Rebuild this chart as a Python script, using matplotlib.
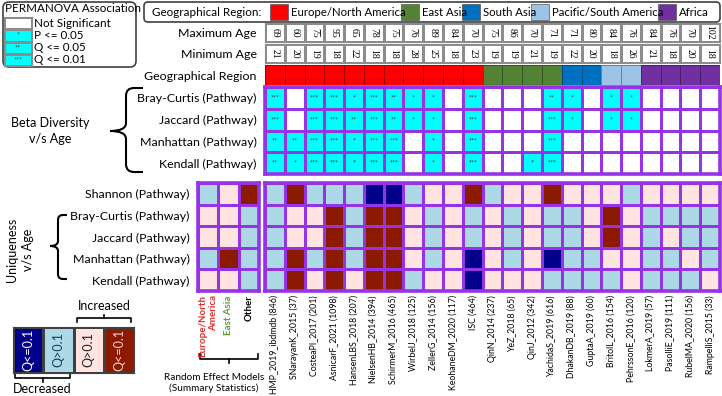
import numpy as np
import matplotlib.pyplot as plt
from matplotlib.colors import ListedColormap, BoundaryNorm
from matplotlib.patches import FancyBboxPatch, PathPatch, Rectangle
from matplotlib.path import Path

plt.rcParams['font.family'] = ['Lato', 'DejaVu Sans']

# ---- data ----
studies = ['HMP_2019_ibdmdb (846)', 'SNarayanK_2015 (37)', 'CosteaPI_2017 (201)',
           'AsnicarF_2021 (1098)', 'HansenLBS_2018 (207)', 'NielsenHB_2014 (394)',
           'SchirmerM_2016 (465)', 'WirbelJ_2018 (125)', 'ZellerG_2014 (156)',
           'KeohaneDM_2020 (117)', 'ISC (464)', 'QinN_2014 (237)', 'YeZ_2018 (65)',
           'QinJ_2012 (342)', 'YachidaS_2019 (616)', 'DhakanDB_2019 (88)',
           'GuptaA_2019 (60)', 'BritolL_2016 (154)', 'PehrssonE_2016 (120)',
           'LokmerA_2019 (57)', 'PasolliE_2019 (111)', 'RubelMA_2020 (156)',
           'RampelliS_2015 (33)']
region_names = ['Europe/North America', 'East Asia', 'South Asia',
                'Pacific/South America', 'Africa']
region_colors = ['#ff0000', '#548235', '#0070c0', '#9dc3e6', '#7030a0']
study_region = [0, 0, 0, 0, 0, 0, 0, 0, 0, 0, 0, 1, 1, 1, 1, 2, 2, 3, 3, 4, 4, 4, 4]
max_age = [69, 60, 75, 95, 65, 78, 75, 76, 89, 84, 70, 75, 86, 70, 71, 71, 80, 84,
           76, 84, 76, 70, 102]
min_age = [21, 20, 19, 18, 22, 18, 18, 28, 25, 18, 23, 19, 19, 21, 19, 22, 20, 18,
           26, 21, 18, 20, 18]

beta_rows = ['Bray-Curtis (Pathway)', 'Jaccard (Pathway)', 'Manhattan (Pathway)',
             'Kendall (Pathway)']
# 0 = not significant, 1 = *, 2 = **, 3 = ***
beta_sig = [
    [3, 0, 3, 3, 1, 3, 2, 1, 1, 0, 3, 0, 0, 0, 2, 1, 0, 1, 1, 0, 0, 0, 0],
    [3, 0, 3, 3, 2, 3, 2, 1, 1, 0, 3, 0, 0, 0, 3, 1, 0, 1, 1, 0, 0, 0, 0],
    [2, 2, 3, 3, 1, 3, 3, 0, 1, 0, 3, 0, 0, 0, 3, 0, 0, 0, 0, 0, 0, 0, 0],
    [2, 1, 3, 3, 1, 3, 3, 0, 1, 0, 3, 0, 0, 1, 3, 0, 0, 0, 0, 0, 0, 0, 0],
]

uniq_rows = ['Shannon (Pathway)', 'Bray-Curtis (Pathway)', 'Jaccard (Pathway)',
             'Manhattan (Pathway)', 'Kendall (Pathway)']
rem_labels = ['Europe/North\nAmerica', 'East Asia', 'Other']
rem_colors = ['#e0302a', '#5c9a3a', 'black']
# -2 decreased Q<=0.1, -1 decreased Q>0.1, 1 increased Q>0.1, 2 increased Q<=0.1
uniq_rem = [
    [-1, 1, 2],
    [1, 1, -1],
    [1, 1, -1],
    [-1, 2, -1],
    [1, 1, -1],
]
uniq_study = [
    [-1, 2, -1, -1, -1, -2, -2, -1, 1, 1, 2, -1, 1, 1, 2, 1, 1, 1, -1, 1, 1, 1, 1],
    [-1, 1, 1, 2, -1, 2, 2, 1, -1, 1, -1, 1, -1, 1, -1, -1, 1, 2, 1, -1, -1, -1, -1],
    [-1, 1, 1, 2, -1, 2, 2, 1, -1, 1, -1, 1, -1, 1, -1, -1, 1, 2, 1, -1, 1, -1, -1],
    [-1, 2, -1, 2, -1, 2, 2, 1, -1, 1, -2, 1, -1, 1, -2, -1, -1, 1, 1, -1, -1, 1, -1],
    [-1, 2, 1, 2, 1, 2, 2, -1, 1, 1, -2, 1, 1, 1, -1, -1, -1, -1, 1, -1, -1, -1, 1],
]
legend_levels = [-2, -1, 1, 2]
legend_text = ['Q<=0.1', 'Q>0.1', 'Q>0.1', 'Q<=0.1']
legend_text_colors = ['white', '#1f3864', '#222222', '#ffd0d0']
sig_levels = [0, 1, 2, 3]
sig_text = ['Not Significant', 'P <= 0.05', 'Q <= 0.05', 'Q <= 0.01']

# ---- styles ----
W, H = 722, 396
PURPLE = '#9633e6'
LBL = 8.9
beta_cmap = ListedColormap(['white', '#00ffff'])
beta_norm = BoundaryNorm([-0.5, 0.5, 3.5], 2)
uniq_cmap = ListedColormap(['#00008b', '#add8e6', '#ffe4e1', '#8b1a00'])
uniq_norm = BoundaryNorm([-2.5, -1.5, 0, 1.5, 2.5], 4)

fig = plt.figure(figsize=(W / 100, H / 100), dpi=100)

# overlay for braces / boxes / free text, pixel coordinates
ax = fig.add_axes([0, 0, 1, 1])
ax.set_xlim(0, W)
ax.set_ylim(H, 0)
ax.axis('off')


def px_axes(x0, y0, x1, y1):
    return fig.add_axes([x0 / W, 1 - y1 / H, (x1 - x0) / W, (y1 - y0) / H])


def grid(a, vals, cmap, norm, edge, lw, spine_lw):
    vals = np.asarray(vals)
    a.pcolormesh(vals, cmap=cmap, norm=norm, edgecolors=edge, linewidth=lw)
    a.set_xlim(0, vals.shape[1])
    a.set_ylim(vals.shape[0], 0)
    a.set_xticks([])
    a.set_yticks([])
    for s in a.spines.values():
        s.set_color(edge)
        s.set_linewidth(spine_lw)
    a.tick_params(length=0)


def stars(a, vals, size=5):
    for r, row in enumerate(vals):
        for c, v in enumerate(row):
            if v > 0:
                a.text(c + 0.5, r + 0.5, '*' * v, ha='center', va='center',
                       fontsize=size, color='#333333')


def brace(x_tip, xv, x_end, y0, y1, ym, r):
    verts = [(x_end, y0), (xv + r, y0), (xv, y0), (xv, y0 + r), (xv, ym - r),
             (xv, ym), (x_tip, ym), (xv, ym), (xv, ym + r), (xv, y1 - r),
             (xv, y1), (xv + r, y1), (x_end, y1)]
    codes = [Path.MOVETO, Path.LINETO, Path.CURVE3, Path.CURVE3, Path.LINETO,
             Path.CURVE3, Path.CURVE3, Path.CURVE3, Path.CURVE3, Path.LINETO,
             Path.CURVE3, Path.CURVE3, Path.LINETO]
    ax.add_patch(PathPatch(Path(verts, codes), fc='none', ec='black', lw=1.5))


def hbracket(x0, x1, y, d_end, d_mid):
    ax.plot([x0, x0, x1, x1], [y + d_end, y, y, y + d_end], color='black', lw=1.2)
    xm = (x0 + x1) / 2
    ax.plot([xm, xm], [y, y + d_mid], color='black', lw=1.2)


# ---- top-left PERMANOVA legend ----
ax.add_patch(FancyBboxPatch((3, 2), 133, 65, boxstyle='round,pad=0,rounding_size=6',
                            fc='white', ec='#404040', lw=1.2))
ax.text(5, 9, 'PERMANOVA Association', fontsize=8.4, va='center', ha='left')
la = px_axes(4, 17, 32, 66)
grid(la, [[v] for v in sig_levels], beta_cmap, beta_norm, '#8c8c8c', 0.8, 0.8)
stars(la, [[v] for v in sig_levels], size=5)
for i, t in enumerate(sig_text):
    la.text(1.06, i + 0.5, t, fontsize=8.4, va='center', ha='left')

# ---- region legend (laid out left to right from measured text widths) ----
ax.add_patch(FancyBboxPatch((144, 2), 576, 20, boxstyle='round,pad=0,rounding_size=4',
                            fc='white', ec='#404040', lw=1.2))
ax.text(152, 12, 'Geographical Region:', fontsize=8.4, va='center', ha='left')
renderer = fig.canvas.get_renderer()
x = 270
for name, col in zip(region_names, region_colors):
    ax.add_patch(Rectangle((x, 4), 18, 16, fc=col, ec='#555555', lw=0.5))
    t = ax.text(x + 21, 12, name, fontsize=8.2, va='center', ha='left')
    x = x + 21 + t.get_window_extent(renderer).width - 5

# ---- age rows ----
X0, X1 = 265, 720
for vals, y0, y1, lab in [(max_age, 23, 42, 'Maximum Age'), (min_age, 44, 63, 'Minimum Age')]:
    a = px_axes(X0, y0, X1, y1)
    grid(a, [[0] * len(vals)], ListedColormap(['white']), None, '#8c8c8c', 0.8, 0.8)
    a.set_yticks([0.5], [lab], fontsize=LBL)
    a.tick_params(axis='y', pad=6)
    for c, v in enumerate(vals):
        a.text(c + 0.5, 0.5, str(v), rotation=270, ha='center', va='center',
               fontsize=7, family='Liberation Serif')

# ---- region row ----
ra = px_axes(X0, 65, X1, 85)
ra.pcolormesh([study_region], cmap=ListedColormap(region_colors),
              norm=BoundaryNorm([-0.5, 0.5, 1.5, 2.5, 3.5, 4.5], 5),
              edgecolors=(0, 0, 0, 0.35), linewidth=0.6)
ra.set_xlim(0, len(studies))
ra.set_ylim(1, 0)
ra.set_xticks([])
ra.set_yticks([0.5], ['Geographical Region'], fontsize=LBL)
ra.tick_params(length=0, pad=6)
for s in ra.spines.values():
    s.set_visible(False)

# ---- beta diversity grid ----
ba = px_axes(X0, 87, X1, 174)
grid(ba, beta_sig, beta_cmap, beta_norm, PURPLE, 2.0, 2.6)
stars(ba, beta_sig)
ba.set_yticks(np.arange(len(beta_rows)) + 0.5, beta_rows, fontsize=LBL)
ba.tick_params(axis='y', pad=6)

# ---- uniqueness grids ----
ua = px_axes(198, 183, 259, 291)
grid(ua, uniq_rem, uniq_cmap, uniq_norm, PURPLE, 1.8, 2.6)
ua.set_yticks(np.arange(len(uniq_rows)) + 0.5, uniq_rows, fontsize=LBL)
ua.tick_params(axis='y', pad=6)
ua.set_xticks(np.arange(3) + 0.5, rem_labels, rotation=90, fontsize=7, fontweight='bold')
ua.tick_params(axis='x', pad=3)
for t, col in zip(ua.get_xticklabels(), rem_colors):
    t.set_color(col)
    t.set_multialignment('right')

sa = px_axes(X0, 183, X1, 291)
grid(sa, uniq_study, uniq_cmap, uniq_norm, PURPLE, 1.8, 2.6)
sa.set_xticks(np.arange(len(studies)) + 0.5, studies, rotation=90, fontsize=6.3)
sa.tick_params(axis='x', pad=3)

# ---- bottom-left colour legend ----
ca = px_axes(13, 327, 134, 373)
grid(ca, [legend_levels], uniq_cmap, uniq_norm, '#404040', 0.8, 0.8)
for i, (t, col) in enumerate(zip(legend_text, legend_text_colors)):
    ca.text(i + 0.5, 0.5, t, rotation=90, ha='center', va='center', fontsize=9, color=col)

hbracket(77, 131, 318, 4, -3)
ax.text(104, 306, 'Increased', fontsize=9, ha='center', va='center')
hbracket(15, 70, 378, -4, 4)
ax.text(42, 389, 'Decreased', fontsize=9, ha='center', va='center')

# ---- braces and group labels ----
brace(110, 126, 143, 88, 172, 131, 8)
ax.text(50, 131, 'Beta Diversity\nv/s Age', fontsize=9, ha='center', va='center',
        linespacing=1.4)
brace(50, 58, 67, 215, 279, 246, 5)
ax.text(20, 250, 'Uniqueness\nv/s Age', fontsize=9, ha='center', va='center',
        rotation=90, linespacing=1.4)

hbracket(200, 258, 359, -5, 4)
ax.text(214, 383, 'Random Effect Models\n(Summary Statistics)', fontsize=7.2,
        ha='center', va='center', linespacing=1.3)

fig.savefig('out.png', dpi=100)
